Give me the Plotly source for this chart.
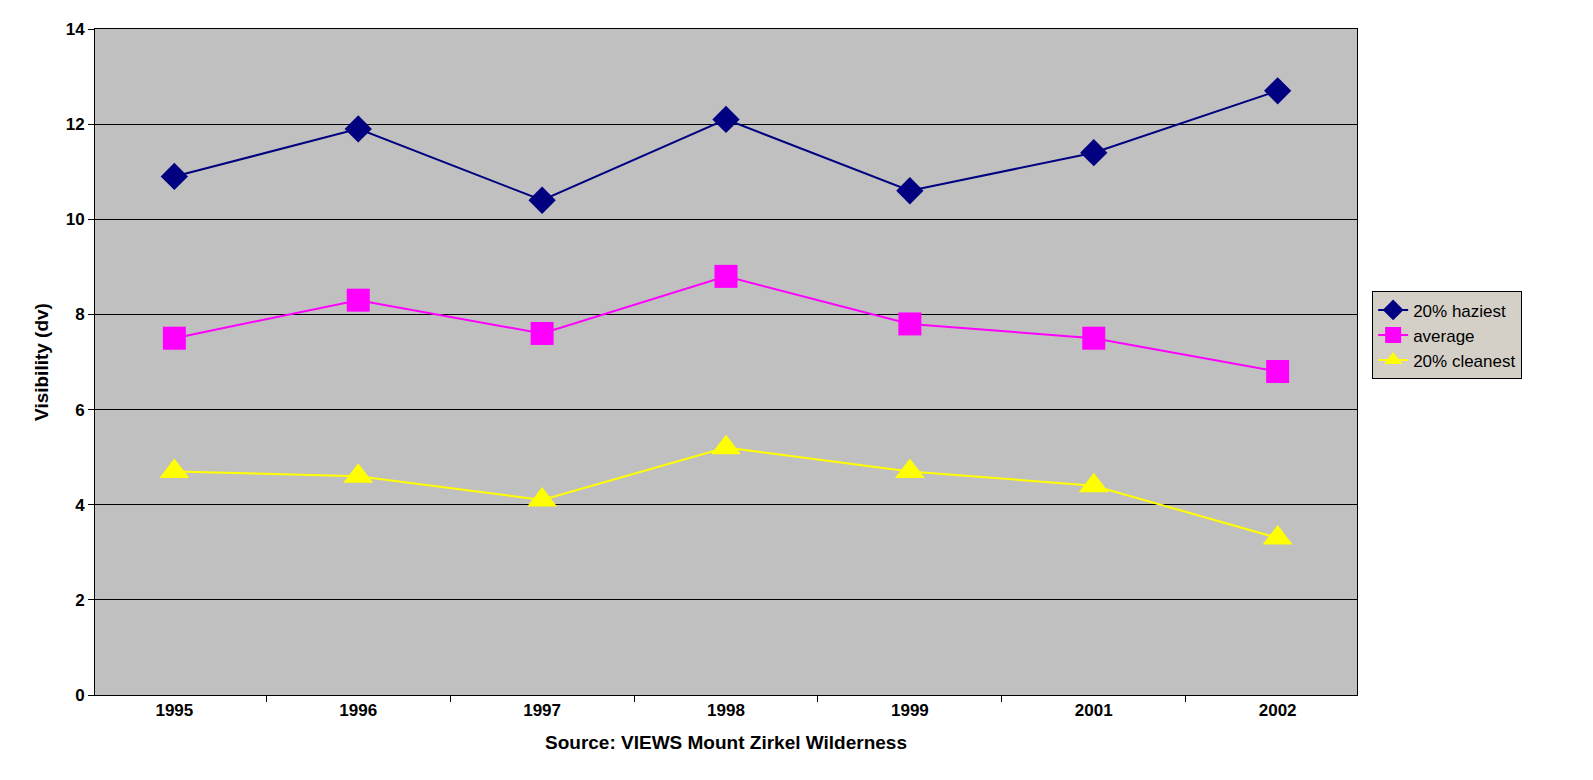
import plotly.graph_objects as go

years = ['1995', '1996', '1997', '1998', '1999', '2001', '2002']
haziest = [10.9, 11.9, 10.4, 12.1, 10.6, 11.4, 12.7]
average = [7.5, 8.3, 7.6, 8.8, 7.8, 7.5, 6.8]
cleanest = [4.7, 4.6, 4.1, 5.2, 4.7, 4.4, 3.3]

fig = go.Figure()
fig.add_trace(go.Scatter(x=years, y=haziest, name='20% haziest', mode='lines+markers',
                         line=dict(color='#000080', width=2),
                         marker=dict(symbol='diamond', size=21, color='#000080')))
fig.add_trace(go.Scatter(x=years, y=average, name='average', mode='lines+markers',
                         line=dict(color='#FF00FF', width=2),
                         marker=dict(symbol='square', size=23, color='#FF00FF')))
fig.add_trace(go.Scatter(x=years, y=cleanest, name='20% cleanest', mode='lines+markers',
                         line=dict(color='#FFFF00', width=2),
                         marker=dict(symbol='triangle-up', size=26, color='#FFFF00')))

fig.update_layout(
    width=1593, height=780,
    margin=dict(l=87, r=244, t=21, b=93),
    paper_bgcolor='white', plot_bgcolor='#C0C0C0',
    font=dict(family='Liberation Sans, Arial', size=16, color='black'),
    legend=dict(x=1.012, y=0.54, yanchor='middle', bgcolor='#D4D0C8',
                bordercolor='black', borderwidth=1, font=dict(size=17)),
    xaxis=dict(title=dict(text='<b>Source: VIEWS Mount Zirkel Wilderness</b>', standoff=16),
               tickfont=dict(size=17, weight='bold'),
               showline=True, linecolor='black', mirror=True, ticks='outside',
               tickson='boundaries', ticklen=6, tickcolor='black', showgrid=False),
    yaxis=dict(title=dict(text='<b>Visibility (dv)</b>', standoff=12), range=[0, 14], dtick=2,
               tickfont=dict(size=17, weight='bold'),
               showline=True, linecolor='black', mirror=True, ticks='outside',
               ticklen=6, tickcolor='black', gridcolor='black', gridwidth=1, zeroline=False),
)
fig.write_html('out.html')
